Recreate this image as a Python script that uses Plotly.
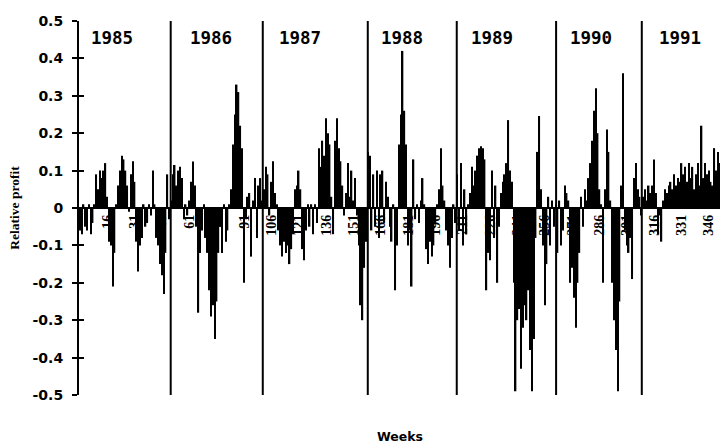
import plotly.graph_objects as go

# Weekly relative profit, 1985-1991
profit = [
    -0.06, -0.07, 0.01, -0.05, -0.06, 0.01, -0.07, -0.04, 0.01, 0.09,
    0.05, 0.10, 0.08, 0.10, 0.12, 0.03, -0.09, -0.10, -0.21, -0.12,
    0.01, 0.06, 0.10, 0.14, 0.13, 0.10, 0.06, -0.01, 0.09, 0.125,
    0.07, -0.09, -0.17, -0.10, -0.08, 0.01, -0.05, -0.04, 0.01, -0.02,
    0.10, 0.01, -0.08, -0.10, -0.15, -0.18, -0.23, -0.12, 0.09, -0.03,
    0.02, 0.09, 0.115, 0.06, 0.10, 0.11, 0.08, -0.03, 0.01, -0.02,
    0.02, 0.07, 0.124, 0.06, -0.05, -0.28, -0.12, -0.06, 0.01, -0.08,
    -0.12, -0.22, -0.29, -0.26, -0.35, -0.25, -0.12, -0.05, -0.12, 0.01,
    -0.09, -0.06, 0.01, 0.05, 0.17, 0.25, 0.33, 0.31, 0.22, 0.16,
    -0.20, -0.03, 0.03, 0.04, -0.13, 0.02, 0.08, -0.08, 0.06, 0.08,
    0.02, 0.05, 0.11, 0.09, -0.02, 0.07, 0.125, 0.04, 0.01, -0.06,
    -0.10, -0.13, -0.09, -0.12, -0.10, -0.15, -0.11, -0.07, 0.05, 0.06,
    0.10, 0.05, -0.11, -0.14, -0.06, 0.01, -0.05, 0.01, -0.07, 0.01,
    -0.04, 0.16, 0.11, 0.18, 0.14, 0.24, 0.20, 0.17, 0.03, -0.07,
    0.18, 0.24, 0.16, 0.125, 0.06, -0.02, 0.04, 0.12, 0.03, 0.10,
    0.02, 0.08, -0.02, -0.10, -0.26, -0.30, -0.16, -0.09, 0.15, 0.14,
    -0.06, 0.09, -0.05, 0.10, -0.08, 0.09, 0.10, -0.04, 0.07, 0.03,
    -0.05, -0.09, 0.01, -0.22, -0.10, 0.17, 0.25, 0.42, 0.26, 0.17,
    -0.10, -0.06, -0.21, 0.13, -0.03, 0.01, -0.04, 0.02, 0.08, 0.01,
    -0.11, -0.15, -0.09, -0.13, -0.10, -0.04, 0.01, 0.05, 0.16, 0.06,
    0.02, -0.06, -0.10, -0.16, -0.08, 0.01, -0.04, 0.09, -0.06, 0.12,
    -0.10, 0.05, -0.07, 0.01, 0.04, 0.11, 0.06, 0.10, 0.14, 0.16,
    0.165, 0.16, 0.13, -0.22, -0.12, -0.14, 0.10, -0.08, 0.06, -0.20,
    -0.05, 0.04, 0.07, 0.09, 0.12, 0.235, 0.10, 0.07, -0.20, -0.49,
    -0.30, -0.27, -0.43, -0.32, -0.26, -0.30, -0.22, -0.38, -0.49, -0.35,
    -0.08, 0.15, 0.246, 0.05, -0.10, -0.26, -0.15, 0.03, -0.10, 0.02,
    -0.05, 0.01, -0.12, 0.02, -0.10, -0.06, 0.06, 0.04, 0.02, -0.20,
    -0.16, -0.24, -0.32, -0.20, -0.12, 0.03, -0.05, 0.05, 0.02, 0.08,
    0.12, 0.18, 0.26, 0.32, 0.20, 0.05, 0.01, -0.20, 0.05, 0.21,
    0.15, 0.02, -0.20, -0.30, -0.38, -0.49, -0.25, 0.06, 0.36, -0.06,
    -0.10, -0.12, -0.08, -0.19, 0.08, 0.12, 0.05, 0.03, -0.02, 0.03,
    0.05, 0.02, 0.06, 0.04, 0.06, 0.13, 0.04, -0.07, -0.02, -0.09,
    0.02, 0.05, 0.04, 0.06, 0.07, 0.05, 0.09, 0.06, 0.08, 0.07,
    0.12, 0.09, 0.11, 0.07, 0.12, 0.08, 0.11, 0.05, 0.09, 0.12,
    0.06, 0.22, 0.08, 0.12, 0.09, 0.10, 0.07, 0.06, 0.16, 0.10,
    0.15, 0.12,
]
weeks = list(range(1, len(profit) + 1))

# Week positions where each new year begins
year_breaks = [50.8, 101.3, 158.9, 207.7, 262.2, 309.2]
years = ["1985", "1986", "1987", "1988", "1989", "1990", "1991"]
year_label_weeks = [18.6, 72.9, 121.5, 177.9, 227.3, 281.5, 330.2]

week_ticks = [16, 31, 46, 61, 76, 91, 106, 121, 136, 151, 166, 181, 196,
              211, 226, 241, 256, 271, 286, 301, 316, 331, 346]
y_ticks = [0.5, 0.4, 0.3, 0.2, 0.1, 0, -0.1, -0.2, -0.3, -0.4, -0.5]
y_tick_text = ["0.5", "0.4", "0.3", "0.2", "0.1", "0",
               "-0.1", "-0.2", "-0.3", "-0.4", "-0.5"]

fig = go.Figure()
fig.add_trace(go.Bar(
    x=weeks, y=profit, width=0.8,
    marker=dict(color="black", line=dict(width=0)),
    hoverinfo="x+y",
))
# empty trace that carries the inner half of the y tick marks
fig.add_trace(go.Scatter(x=[], y=[], yaxis="y2", showlegend=False))

fig.update_layout(
    width=720, height=446,
    margin=dict(l=79, r=0, t=21, b=51),
    plot_bgcolor="white", paper_bgcolor="white",
    showlegend=False,
    xaxis=dict(
        range=[0.5, 352.1], anchor="free", position=0.5,
        tickvals=week_ticks, ticktext=[str(w) for w in week_ticks],
        tickangle=-90, ticks="", ticklabelstandoff=3,
        tickfont=dict(family="Liberation Serif", size=14, color="black", weight="bold"),
        showgrid=False, showline=False, zeroline=False,
    ),
    yaxis=dict(
        range=[-0.5, 0.5], tickvals=y_ticks, ticktext=y_tick_text,
        ticks="outside", ticklen=5, tickwidth=1.5, tickcolor="black",
        ticklabelstandoff=6,
        tickfont=dict(family="DejaVu Sans", size=14, color="black", weight="bold"),
        showline=True, linecolor="black", linewidth=2,
        showgrid=False, zeroline=True, zerolinecolor="black", zerolinewidth=1.5,
        title=dict(text="Relative profit", standoff=10,
                   font=dict(family="Liberation Serif", size=13.5, color="black", weight="bold")),
    ),
    yaxis2=dict(
        range=[-0.5, 0.5], tickvals=y_ticks, overlaying="y", side="left", anchor="x",
        ticks="inside", ticklen=5, tickwidth=1.5, tickcolor="black",
        showticklabels=False, showline=False, showgrid=False, zeroline=False,
    ),
)

for b in year_breaks:
    fig.add_shape(type="line", xref="x", yref="y", x0=b, x1=b, y0=-0.5, y1=0.5,
                  line=dict(color="black", width=2), layer="above")

for yr, w in zip(years, year_label_weeks):
    fig.add_annotation(x=w, y=0.455, xref="x", yref="y", text=yr, showarrow=False,
                       xanchor="center", yanchor="middle",
                       font=dict(family="DejaVu Sans Mono", size=17.5, color="black", weight="bold"))

fig.add_annotation(x=0.5, y=-0.112, xref="paper", yref="paper", text="Weeks",
                   showarrow=False, xanchor="center", yanchor="middle",
                   font=dict(family="DejaVu Sans", size=12.5, color="black", weight="bold"))

fig.write_html("out.html")
